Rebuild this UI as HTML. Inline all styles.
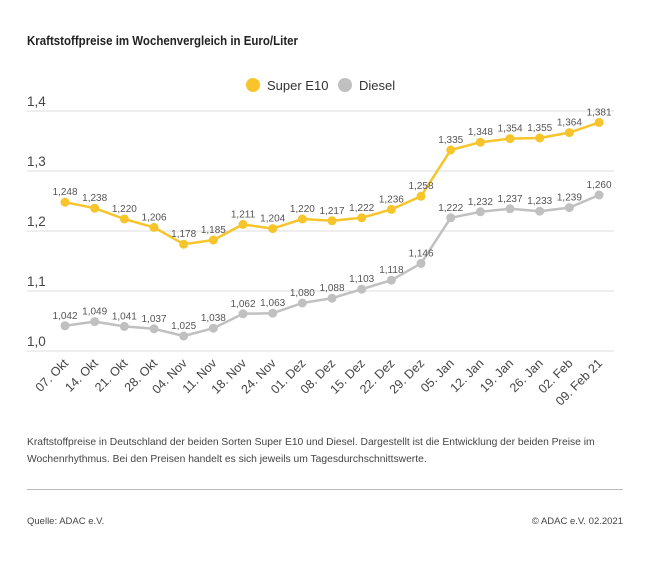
<!DOCTYPE html>
<html><head><meta charset="utf-8"><style>
body{margin:0;background:#fff;width:650px;height:566px;overflow:hidden}
svg{display:block;font-family:"Liberation Sans",sans-serif}
</style></head><body>
<svg width="650" height="566" viewBox="0 0 650 566">
<text x="27" y="45" font-size="13" font-weight="bold" fill="#222" textLength="271" lengthAdjust="spacingAndGlyphs">Kraftstoffpreise im Wochenvergleich in Euro/Liter</text>
<circle cx="253" cy="85" r="7" fill="#f7c52b"/>
<text x="267" y="90" font-size="13" fill="#333">Super E10</text>
<circle cx="345" cy="85" r="7" fill="#c0c0c0"/>
<text x="359" y="90" font-size="13" fill="#333">Diesel</text>
<g stroke="#dcdcdc" stroke-width="1">
<line x1="27" x2="614" y1="111" y2="111"/><line x1="27" x2="614" y1="171" y2="171"/>
<line x1="27" x2="614" y1="231" y2="231"/><line x1="27" x2="614" y1="291" y2="291"/>
<line x1="27" x2="614" y1="351" y2="351"/></g>
<g font-size="13.5" fill="#444">
<text x="27" y="106">1,4</text><text x="27" y="166">1,3</text><text x="27" y="226">1,2</text><text x="27" y="286">1,1</text><text x="27" y="346">1,0</text></g>
<g id="c"></g>
</svg>
<script>
var s=[1.248,1.238,1.220,1.206,1.178,1.185,1.211,1.204,1.220,1.217,1.222,1.236,1.258,1.335,1.348,1.354,1.355,1.364,1.381];
var d=[1.042,1.049,1.041,1.037,1.025,1.038,1.062,1.063,1.080,1.088,1.103,1.118,1.146,1.222,1.232,1.237,1.233,1.239,1.260];
var L=["07. Okt","14. Okt","21. Okt","28. Okt","04. Nov","11. Nov","18. Nov","24. Nov","01. Dez","08. Dez","15. Dez","22. Dez","29. Dez","05. Jan","12. Jan","19. Jan","26. Jan","02. Feb","09. Feb 21"];
function X(i){return 65+i*29.67}function Y(v){return 351-(v-1)*600}
var h="";
[[d,"#c0c0c0"],[s,"#f7c52b"]].forEach(function(p){
var a=p[0],pts=a.map(function(v,i){return X(i).toFixed(1)+","+Y(v).toFixed(1)}).join(" ");
h+='<polyline points="'+pts+'" fill="none" stroke="'+p[1]+'" stroke-width="2.5" stroke-linejoin="round"/>';
a.forEach(function(v,i){h+='<circle cx="'+X(i)+'" cy="'+Y(v)+'" r="4.5" fill="'+p[1]+'"/>';
h+='<text x="'+X(i)+'" y="'+(Y(v)-7)+'" font-size="10" fill="#555" text-anchor="middle">'+v.toFixed(3).replace(".",",")+'</text>';});
});
L.forEach(function(t,i){var x=X(i)+4,y=364;h+='<text x="'+x+'" y="'+y+'" font-size="12.5" fill="#444" text-anchor="end" transform="rotate(-45 '+x+' '+y+')">'+t+'</text>';});
document.getElementById("c").innerHTML=h;
</script>
<div style="position:absolute;left:27px;top:434px;width:600px;font:10.3px/17px 'Liberation Sans',sans-serif;color:#444">Kraftstoffpreise in Deutschland der beiden Sorten Super E10 und Diesel. Dargestellt ist die Entwicklung der beiden Preise im Wochenrhythmus. Bei den Preisen handelt es sich jeweils um Tagesdurchschnittswerte.</div>
<div style="position:absolute;left:27px;top:489px;width:596px;height:1px;background:#bbb"></div>
<div style="position:absolute;left:27px;top:516px;font:9.5px 'Liberation Sans',sans-serif;color:#444">Quelle: ADAC e.V.</div>
<div style="position:absolute;right:27px;top:516px;font:9.5px 'Liberation Sans',sans-serif;color:#444">© ADAC e.V. 02.2021</div>
</body></html>
